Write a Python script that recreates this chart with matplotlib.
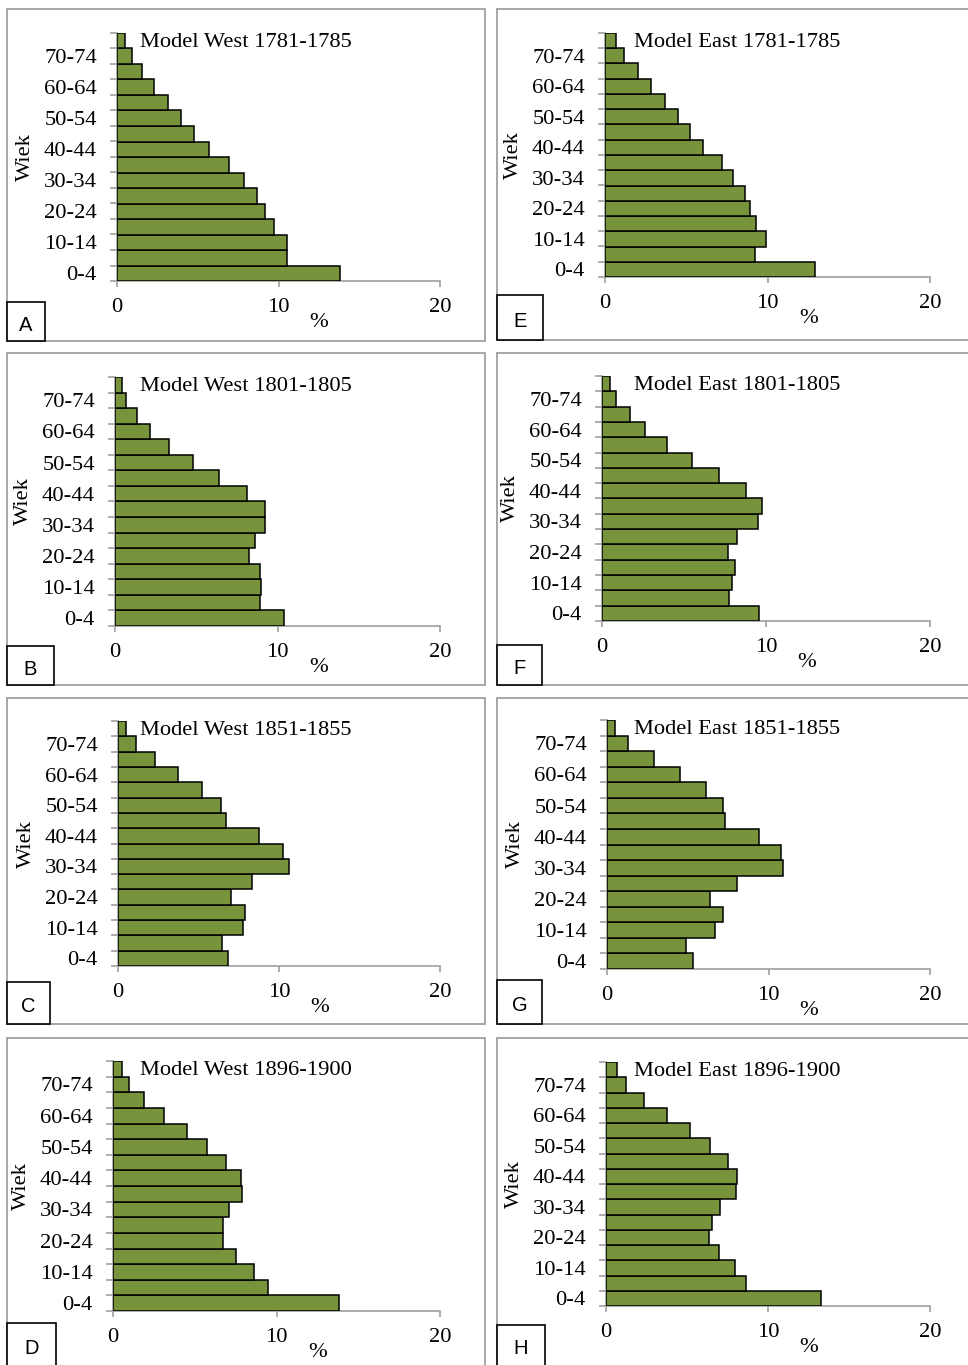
import numpy as np
import matplotlib
matplotlib.use("Agg")
import matplotlib.pyplot as plt
from matplotlib.patches import Rectangle

# age groups, bottom to top (16 groups, the last one unlabelled)
age_groups = ['0-4', '5-9', '10-14', '15-19', '20-24', '25-29', '30-34', '35-39',
              '40-44', '45-49', '50-54', '55-59', '60-64', '65-69', '70-74', '75+']

# share of population (%) per age group
west_1781 = [13.8, 10.5, 10.5, 9.75, 9.15, 8.65, 7.85, 6.95, 5.7, 4.75, 3.95, 3.15, 2.3, 1.55, 0.9, 0.5]
east_1781 = [12.9, 9.2, 9.9, 9.3, 8.9, 8.6, 7.9, 7.2, 6.0, 5.2, 4.5, 3.7, 2.85, 2.0, 1.15, 0.7]
west_1801 = [10.4, 8.95, 9.0, 8.9, 8.25, 8.6, 9.25, 9.25, 8.1, 6.4, 4.8, 3.35, 2.15, 1.35, 0.7, 0.4]
east_1801 = [9.6, 7.75, 7.9, 8.1, 7.7, 8.25, 9.5, 9.75, 8.75, 7.15, 5.5, 3.95, 2.65, 1.7, 0.85, 0.5]
west_1851 = [6.85, 6.45, 7.75, 7.9, 7.0, 8.3, 10.65, 10.25, 8.75, 6.7, 6.4, 5.2, 3.7, 2.3, 1.1, 0.5]
east_1851 = [5.3, 4.9, 6.7, 7.2, 6.4, 8.05, 10.9, 10.8, 9.4, 7.3, 7.2, 6.15, 4.55, 2.9, 1.3, 0.5]
west_1896 = [13.8, 9.45, 8.6, 7.55, 6.7, 6.75, 7.1, 7.9, 7.85, 6.9, 5.75, 4.5, 3.1, 1.9, 1.0, 0.55]
east_1896 = [13.25, 8.65, 7.95, 7.0, 6.35, 6.55, 7.05, 8.0, 8.1, 7.5, 6.4, 5.2, 3.75, 2.35, 1.25, 0.7]

titles = ['Model West 1781-1785', 'Model East 1781-1785',
          'Model West 1801-1805', 'Model East 1801-1805',
          'Model West 1851-1855', 'Model East 1851-1855',
          'Model West 1896-1900', 'Model East 1896-1900']
letters = ['A', 'E', 'B', 'F', 'C', 'G', 'D', 'H']
series = [west_1781, east_1781, west_1801, east_1801,
          west_1851, east_1851, west_1896, east_1896]

W, H = 968, 1365
fig = plt.figure(figsize=(W / 100, H / 100), dpi=100)
serif = 'Liberation Serif'
fs = 16.2

# axes placement in pixels: x of 0, x of 20, y of axis line, y of top bar edge
axes_px = [(117, 440, 281, 33), (605, 930, 277, 33),
           (115, 440, 626, 377), (602, 930, 621, 376),
           (118, 440, 966, 721), (607, 930, 969, 720),
           (113, 440, 1311, 1061), (606, 930, 1306, 1062)]
# panel frames (left, top, bottom) and letter boxes (right, top)
frames = [(7, 9, 341), (497, 9, 340), (7, 353, 685), (497, 353, 685),
          (7, 698, 1024), (497, 698, 1024), (7, 1038, 1372), (497, 1038, 1372)]
frame_w = [478, 480]
letter_boxes = [(45, 302), (543, 295), (54, 646), (542, 645),
                (50, 982), (542, 980), (56, 1323), (545, 1325)]
title_x = [140, 634]

y = np.arange(len(age_groups))
grey = '#A0A0A0'

for i in range(8):
    col = i % 2
    fl, ft, fb = frames[i]
    fig.patches.append(Rectangle((fl / W, 1 - fb / H), frame_w[col] / W, (fb - ft) / H,
                                 transform=fig.transFigure, fill=False,
                                 edgecolor=grey, lw=1.3, zorder=0))

    x0, x20, yb, yt = axes_px[i]
    ax = fig.add_axes([x0 / W, 1 - yb / H, (x20 - x0) / W, (yb - yt) / H])
    ax.barh(y, series[i], height=1.0, color='#77933C', edgecolor='black', linewidth=1.1, zorder=3)
    ax.set_xlim(0, 20)
    ax.set_ylim(-0.5, 15.5)
    ax.patch.set_alpha(0)

    for s in ['top', 'right']:
        ax.spines[s].set_visible(False)
    for s in ['left', 'bottom']:
        ax.spines[s].set_color(grey)
        ax.spines[s].set_linewidth(1.2)

    ax.set_xticks([0, 10, 20])
    ax.set_xticklabels(['0', '10', '20'], fontfamily=serif, fontsize=fs)
    ax.tick_params(axis='x', length=4, width=1.2, color=grey, pad=8)

    ax.set_yticks(y[::2])
    ax.set_yticklabels(age_groups[::2], fontfamily=serif, fontsize=fs)
    ax.set_yticks(np.arange(-0.5, 16, 1), minor=True)
    ax.tick_params(axis='y', which='major', length=0, pad=14.5)
    ax.tick_params(axis='y', which='minor', length=5, width=1.2, color=grey)

    # "Wiek" axis title
    ax.text(-92 / (x20 - x0), 0.5, 'Wiek', transform=ax.transAxes, rotation=90,
            ha='center', va='center', fontfamily=serif, fontsize=fs)

    ax.annotate('%', xy=(12.5, 0), xycoords=ax.get_xaxis_transform(),
                xytext=(0, -30), textcoords='offset points',
                ha='center', va='center', fontfamily=serif, fontsize=fs)

    ax.text((title_x[col] - x0) / (x20 - x0), 14.9, titles[i],
            transform=ax.get_yaxis_transform(), ha='left', va='center',
            fontfamily=serif, fontsize=fs)

    lr, lt = letter_boxes[i]
    fig.patches.append(Rectangle((fl / W, 1 - fb / H), (lr - fl) / W, (fb - lt) / H,
                                 transform=fig.transFigure, facecolor='white',
                                 edgecolor='black', lw=1.2, zorder=5))
    fig.text((fl + lr) / 2 / W, 1 - (min(fb, H) + lt) / 2 / H - 4 / H, letters[i],
             ha='center', va='center', fontfamily='Liberation Sans', fontsize=14.5,
             zorder=10)

fig.savefig('out.png', dpi=100)
